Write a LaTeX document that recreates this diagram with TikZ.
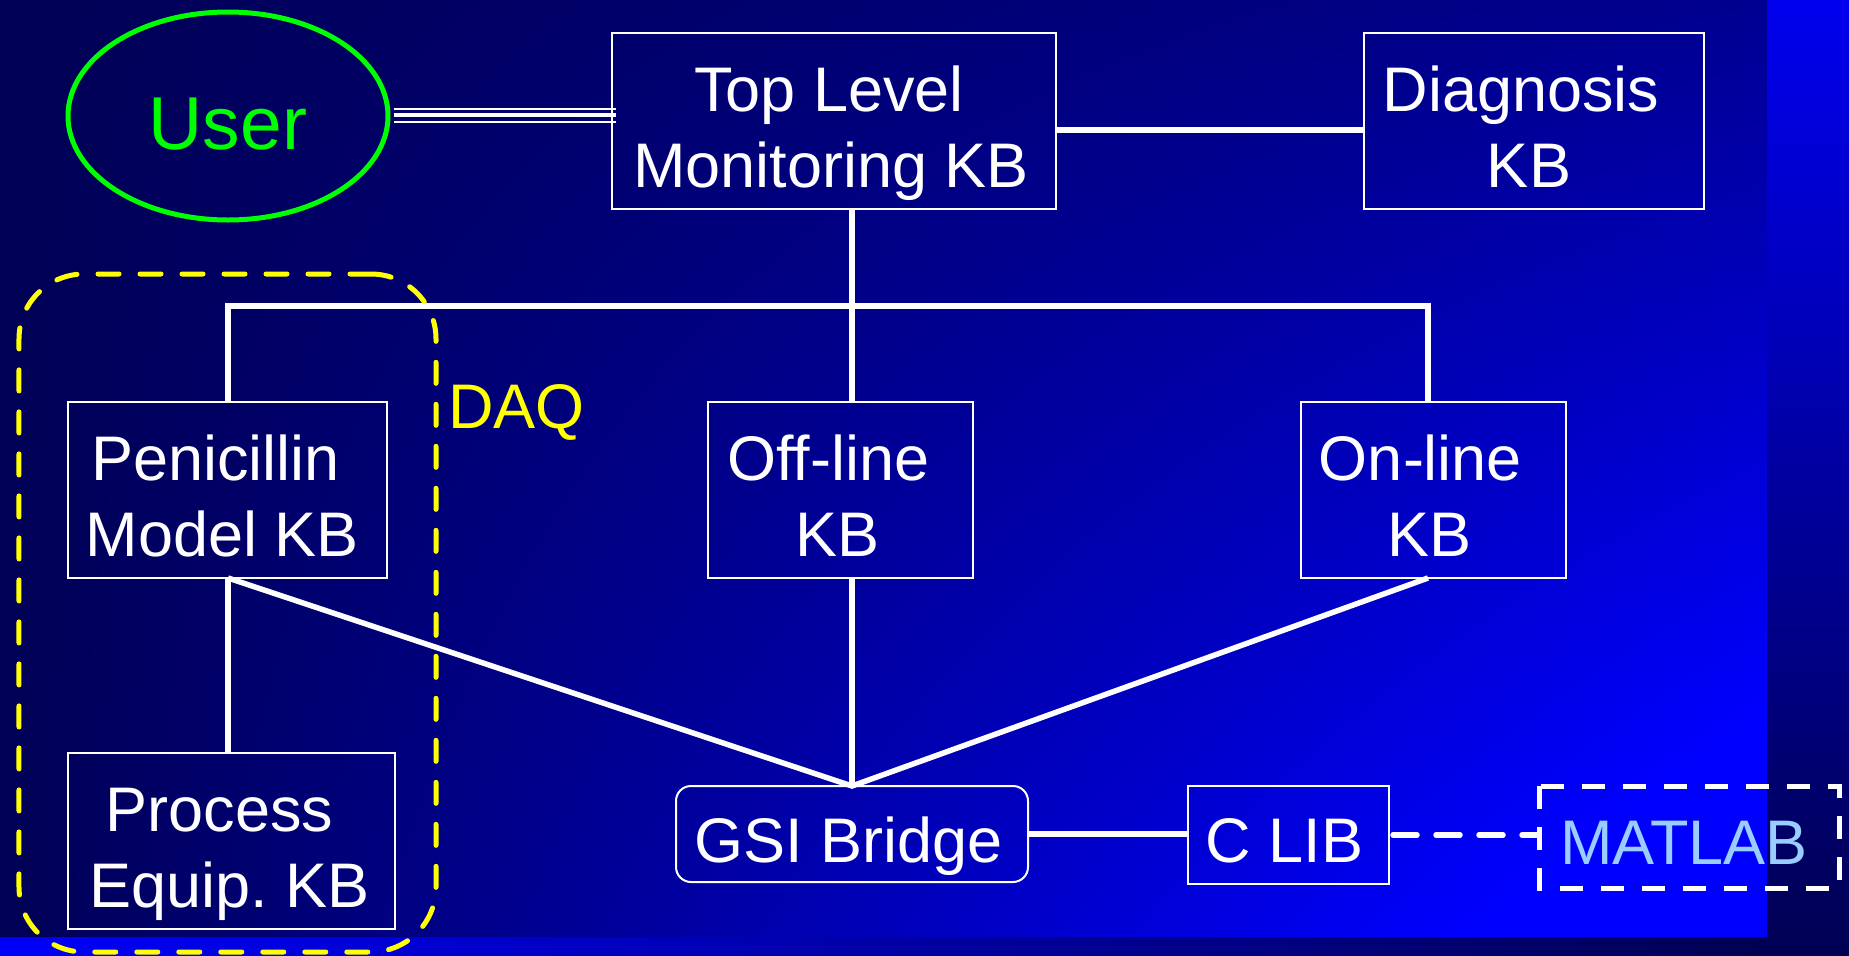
\documentclass[tikz,border=0pt]{standalone}
\usepackage{fontspec}
\setmainfont{Liberation Sans}
\usetikzlibrary{calc,shapes.geometric}

\definecolor{userGreen}{RGB}{0,255,0}
\definecolor{daqYellow}{RGB}{255,255,0}
\definecolor{matlabBlue}{RGB}{153,204,255}
\definecolor{stripTop}{RGB}{0,0,238}
\definecolor{stripDark}{RGB}{0,0,82}
\definecolor{stripBright}{RGB}{0,0,250}

% slide background: navy on the left, brightening towards the lower right
\pgfdeclarefunctionalshading{slidebg}{\pgfpointorigin}{\pgfpoint{100bp}{100bp}}{}{
  75 exch sub 50 div
  0.85 mul 0.35 add
  exch 25 sub 50 div
  mul
  dup 1 gt {pop 1} if
  dup 0 lt {pop 0} if
  0.67 mul 0.33 add
  0 0 3 -1 roll
}

\tikzset{
  kb/.style={draw=white, line width=2bp, rectangle, inner sep=0pt, outer sep=0pt,
    text=white, align=center, font=\fontsize{63bp}{76bp}\selectfont\frenchspacing,
    text height=132bp, text depth=0bp},
  kbone/.style={draw=white, line width=2bp, rectangle, inner sep=0pt, outer sep=0pt,
    text=white, font=\fontsize{63bp}{76bp}\selectfont, text depth=0bp},
  link/.style={white, line width=5.5bp},
  thinlink/.style={white, line width=2.5bp},
  daqframe/.style={draw=daqYellow, line width=5bp, line cap=round,
    dash pattern=on 21bp off 21bp, rounded corners=65bp, inner sep=0pt, outer sep=0pt},
}

\begin{document}
\begin{tikzpicture}[x=1bp, y=-1bp]
\useasboundingbox (0,0) rectangle (1849,955);

% background panels
\shade[shading=slidebg] (0,0) rectangle (1767,937);
\shade[top color=stripTop, bottom color=stripDark] (1767,0) rectangle (1849,955);
\shade[left color=stripBright, right color=stripDark] (0,937) rectangle (1767,955);

% knowledge bases
\node[ellipse, draw=userGreen, line width=5bp, minimum width=320bp, minimum height=208bp,
  inner sep=0pt, outer sep=0pt, text=userGreen, font=\fontsize{75bp}{88bp}\selectfont,
  text height=66bp, text depth=0bp] (user) at (228,116) {User};

\node[kb, minimum width=444bp, minimum height=176bp] (top) at (834,121)
  {Top Level\kern10bp\\Monitoring KB\kern6bp};
\node[kb, minimum width=340bp, minimum height=176bp] (diag) at (1534,121)
  {Diagnosis\kern26bp\\KB\kern10bp};
\node[kb, minimum width=319bp, minimum height=176bp] (pen) at (227.5,490)
  {Penicillin\kern24bp\\Model KB\kern10bp};
\node[kb, minimum width=265bp, minimum height=176bp] (off) at (840.5,490)
  {Off-line\kern24bp\\KB\kern6bp};
\node[kb, minimum width=265bp, minimum height=176bp] (on) at (1433.5,490)
  {On-line\kern26bp\\KB\kern8bp};
\node[kb, minimum width=327bp, minimum height=176bp] (proc) at (231.5,841)
  {Process\kern24bp\\Equip. KB\kern4bp};

\node[kbone, rounded corners=15bp, minimum width=352bp, minimum height=96bp,
  text height=56bp] (gsi) at (852,834) {GSI Bridge\kern6bp};
\node[kbone, minimum width=201bp, minimum height=98bp, text height=54bp]
  (clib) at (1288.5,835) {C LIB\kern8bp};
\node[kbone, draw=none, minimum width=300bp, minimum height=102bp, text height=54bp,
  text=matlabBlue] (matlab) at (1689,837) {MATLAB\kern10bp};
\draw[white, line width=5bp, dash pattern=on 23bp off 18bp]
  (matlab.north west) rectangle (matlab.south east);

% connectors
\coordinate (trunk) at (852,306);
\coordinate (busL) at (228,306);
\coordinate (busR) at (1428,306);

\draw[thinlink] ($(user.east)+(6,-7)$) -- ($(user.east -| top.west)+(4,-7)$);
\draw[white, line width=4bp] ($(user.east)+(6,-1)$) -- ($(user.east -| top.west)+(4,-1)$);
\draw[thinlink] ($(user.east)+(6,6)$) -- ($(user.east -| top.west)+(4,6)$);

\draw[link] ($(top.east)+(0,9)$) -- ($(top.east -| diag.west)+(0,9)$);
\draw[link] (top.south -| trunk) -- (off.north -| trunk);
\draw[link] (pen.north -| busL) -- (busL) -- (busR) -- (on.north -| busR);
\draw[link] (pen.south -| busL) -- (proc.north -| busL);
\draw[link] (pen.south -| busL) -- (gsi.north -| trunk) -- (on.south -| busR);
\draw[link] (off.south -| trunk) -- (gsi.north -| trunk);
\draw[link] (gsi.east) -- (gsi.east -| clib.west);
\draw[link, line cap=round, dash pattern=on 24bp off 19bp]
  ($(clib.east)+(4,0)$) -- (clib.east -| matlab.west);

% data acquisition group
\node[daqframe, minimum width=417bp, minimum height=678bp] (daq) at (227.5,613) {};
\node[anchor=base west, inner sep=0pt, text=daqYellow,
  font=\fontsize{63bp}{76bp}\selectfont] (daqlabel) at (448,428) {DAQ};
\end{tikzpicture}
\end{document}
